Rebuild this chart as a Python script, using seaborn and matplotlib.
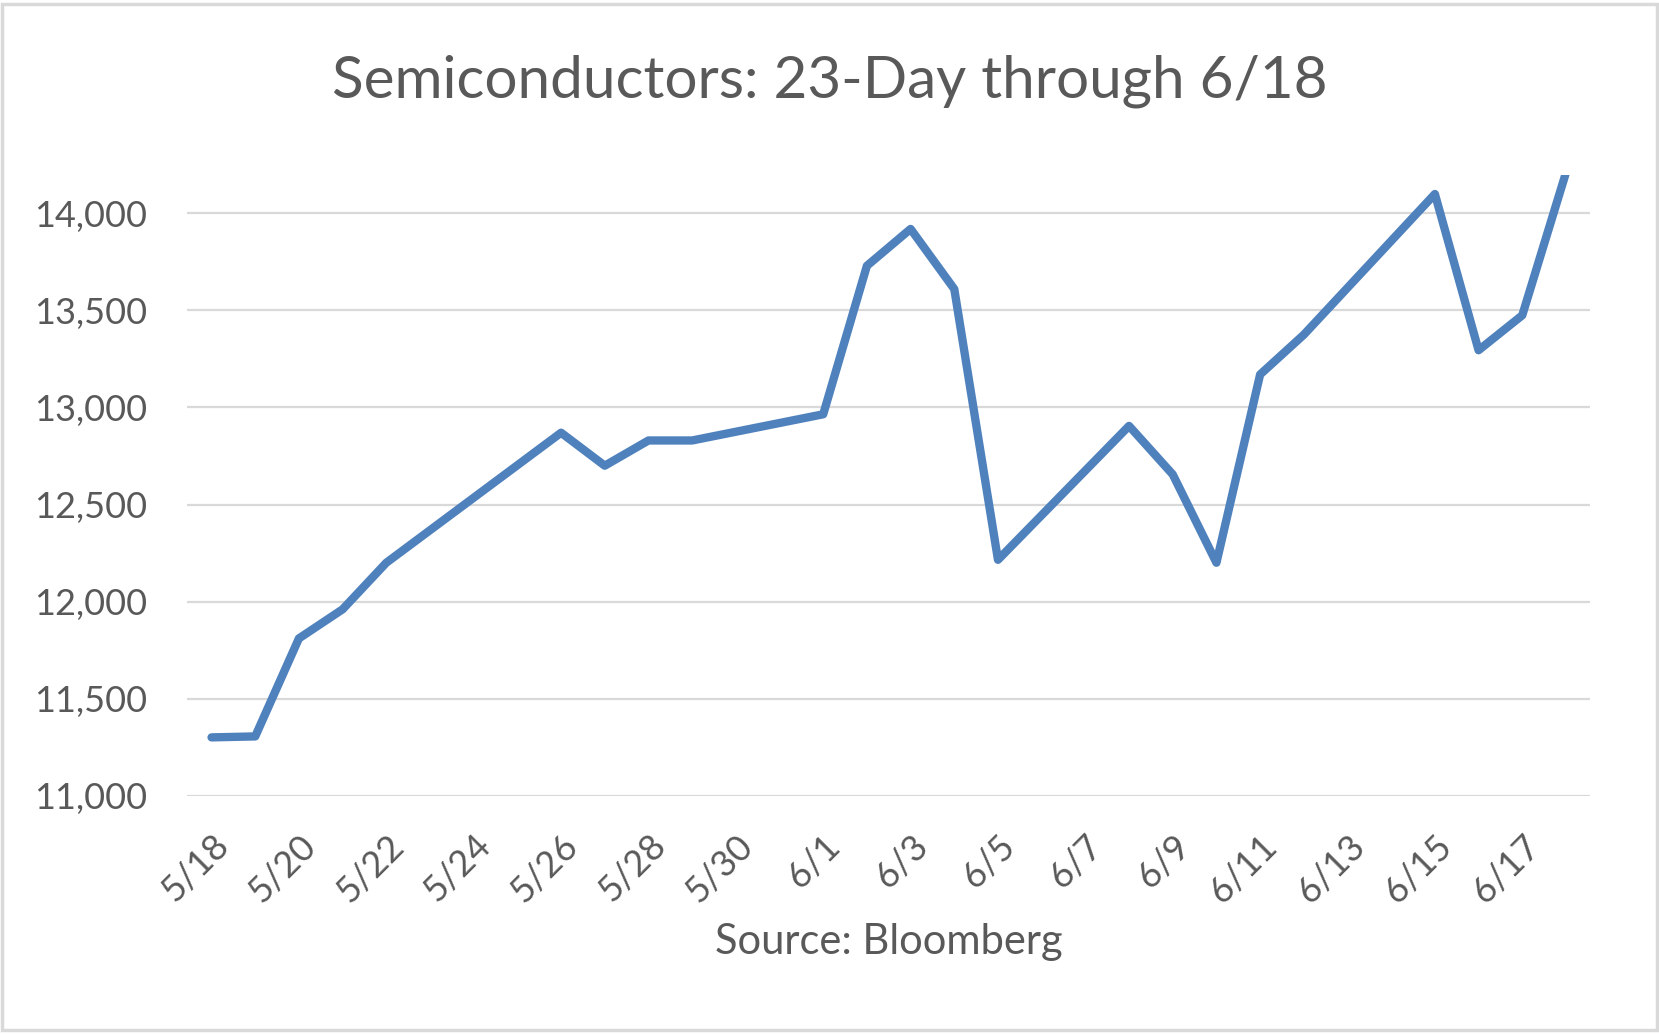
import numpy as np
import pandas as pd
import matplotlib
matplotlib.use("Agg")
import matplotlib.pyplot as plt
import matplotlib.dates as mdates
from matplotlib.patches import Rectangle
import seaborn as sns

# trading days shown on the chart
dates = ["2020-05-18", "2020-05-19", "2020-05-20", "2020-05-21", "2020-05-22",
         "2020-05-26", "2020-05-27", "2020-05-28", "2020-05-29",
         "2020-06-01", "2020-06-02", "2020-06-03", "2020-06-04", "2020-06-05",
         "2020-06-08", "2020-06-09", "2020-06-10", "2020-06-11", "2020-06-12",
         "2020-06-15", "2020-06-16", "2020-06-17", "2020-06-18"]
values = [11300, 11305, 11810, 11960, 12200,
          12870, 12700, 12830, 12830,
          12965, 13730, 13920, 13610, 12215,
          12905, 12655, 12200, 13170, 13375,
          14100, 13295, 13475, 14210]
yticks = [11000, 11500, 12000, 12500, 13000, 13500, 14000]
title = "Semiconductors: 23-Day through 6/18"
source = "Source: Bloomberg"

df = pd.DataFrame({"date": pd.to_datetime(dates), "value": values})

sns.set_theme(style="white")
plt.rcParams["font.family"] = ["Lato", "DejaVu Sans"]
txt = "#595959"

fig = plt.figure(figsize=(16.59, 10.35), dpi=100)
ax = fig.add_axes([0.1127, 0.2313, 0.8457, 0.6])

sns.lineplot(data=df, x="date", y="value", ax=ax, color="#4F81BD",
             linewidth=6.0, solid_capstyle="round", solid_joinstyle="round")

ax.set_ylim(11000, 14200)
ax.set_yticks(yticks)
ax.set_yticklabels([f"{v:,}" for v in yticks])

d0 = df["date"].iloc[0]
d1 = df["date"].iloc[-1]
ax.set_xlim(d0 - pd.Timedelta(hours=13.5), d1 + pd.Timedelta(hours=13.2))
xt = pd.date_range("2020-05-18", "2020-06-17", freq="2D")
ax.set_xticks(xt)
ax.set_xticklabels([f"{d.month}/{d.day}" for d in xt], rotation=45,
                   ha="right", va="top", rotation_mode="anchor")

ax.yaxis.grid(True, color="#D9D9D9", linewidth=1.6)
ax.xaxis.grid(False)
for s in ax.spines.values():
    s.set_visible(False)
ax.tick_params(axis="y", length=0, pad=29, labelsize=26, labelcolor=txt)
ax.tick_params(axis="x", length=0, pad=24, labelsize=26, labelcolor=txt)

ax.set_ylabel("")
ax.set_xlabel(source, fontsize=30, color=txt)
ax.xaxis.set_label_coords(0.5, -0.2357)
ax.xaxis.label.set_va("center")

fig.text(0.5, 0.9217, title, ha="center", va="center", fontsize=42, color=txt)

fig.patches.append(Rectangle((0.0012, 0.0048), 0.9976, 0.9913, transform=fig.transFigure,
                             fill=False, edgecolor="#D9D9D9", linewidth=2.5))

fig.savefig("out.png", dpi=100, facecolor="white")
